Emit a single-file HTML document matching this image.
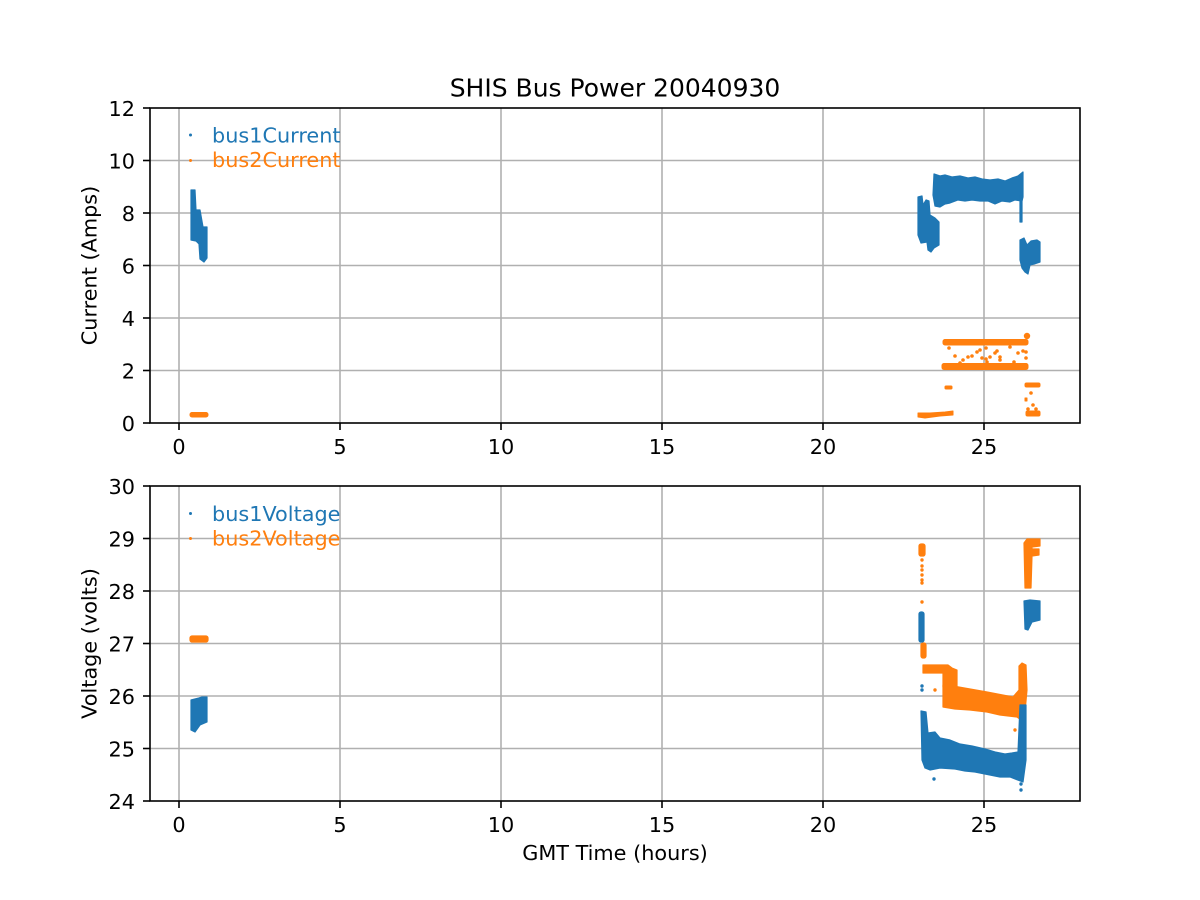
<!DOCTYPE html>
<html><head><meta charset="utf-8"><style>
html,body{margin:0;padding:0;background:#fff;}
svg{display:block;}
text{font-family:"DejaVu Sans","Liberation Sans",sans-serif;fill:#000;}
</style></head><body>
<svg width="1200" height="900" viewBox="0 0 1200 900" xmlns="http://www.w3.org/2000/svg">
<rect width="1200" height="900" fill="#fff"/>
<!-- grids -->
<g stroke="#b0b0b0" stroke-width="1.6">
<line x1="179" y1="108" x2="179" y2="423"/><line x1="340" y1="108" x2="340" y2="423"/><line x1="501" y1="108" x2="501" y2="423"/><line x1="662" y1="108" x2="662" y2="423"/><line x1="823" y1="108" x2="823" y2="423"/><line x1="984" y1="108" x2="984" y2="423"/>
<line x1="150" y1="370.5" x2="1080" y2="370.5"/><line x1="150" y1="318" x2="1080" y2="318"/><line x1="150" y1="265.5" x2="1080" y2="265.5"/><line x1="150" y1="213" x2="1080" y2="213"/><line x1="150" y1="160.5" x2="1080" y2="160.5"/>
<line x1="179" y1="486" x2="179" y2="801"/><line x1="340" y1="486" x2="340" y2="801"/><line x1="501" y1="486" x2="501" y2="801"/><line x1="662" y1="486" x2="662" y2="801"/><line x1="823" y1="486" x2="823" y2="801"/><line x1="984" y1="486" x2="984" y2="801"/>
<line x1="150" y1="748.5" x2="1080" y2="748.5"/><line x1="150" y1="696" x2="1080" y2="696"/><line x1="150" y1="643.5" x2="1080" y2="643.5"/><line x1="150" y1="591" x2="1080" y2="591"/><line x1="150" y1="538.5" x2="1080" y2="538.5"/>
</g>

<!-- TOP PANEL DATA -->
<g fill="#1f77b4" stroke="#1f77b4" stroke-width="1.2" stroke-linejoin="round">
<polygon points="191,190 195,190 196,210 200,210 203,227 207,227 207,258 204,262 200,259 199,244 196,241 191,240"/>
<polygon points="918,197 922,196 923,205 926,200 929,201 930,215 935,218 939,222 939,245 934,248 931,252 928,250 927,242 921,243 918,235"/>
<polygon points="934,174 940,176 945,175 952,177 960,176 968,178 975,177 982,179 990,180 998,179 1005,181 1012,178 1018,176 1023,172 1023,197 1022,201 1015,200 1010,202 1002,201 995,204 988,201 980,201 972,200 965,201 958,200 950,203 945,204 940,207 935,206 933,195"/>
<rect x="1020" y="196" width="2" height="26"/>
<polygon points="1020,240 1024,238 1027,245 1031,241 1037,240 1040,242 1040,262 1034,264 1030,265 1028,274 1025,272 1022,268 1020,260"/>
</g>
<g fill="#ff7f0e" stroke="#ff7f0e" stroke-width="1" stroke-linejoin="round">
<rect x="190" y="412.5" width="18" height="4.5" rx="2"/>
<rect x="943" y="339.5" width="85" height="5.5" rx="2"/>
<rect x="942" y="363.5" width="86" height="6" rx="2"/>
<polygon points="918,413 930,413 945,412 953,411 953,415 940,416 925,418 918,417"/>
<rect x="945" y="386" width="7" height="3" rx="1"/>
<rect x="1025" y="383" width="15" height="4" rx="1.5"/>
<rect x="1026" y="411" width="14" height="5" rx="1.5"/>
<rect x="1025" y="398" width="2" height="3"/>
</g>
<g fill="#ff7f0e">
<circle cx="1027" cy="336" r="3.2"/>
<circle cx="949" cy="348" r="1.8"/><circle cx="955" cy="356" r="1.8"/><circle cx="968" cy="357" r="1.8"/><circle cx="972" cy="356" r="1.8"/><circle cx="977" cy="352" r="1.8"/><circle cx="982" cy="358" r="1.8"/><circle cx="986" cy="359" r="1.8"/><circle cx="990" cy="357" r="1.8"/><circle cx="995" cy="353" r="1.8"/><circle cx="997" cy="351" r="1.8"/><circle cx="1000" cy="357" r="1.8"/><circle cx="1010" cy="347" r="1.8"/><circle cx="1018" cy="353" r="1.8"/><circle cx="1023" cy="351" r="1.8"/><circle cx="1026" cy="352" r="1.8"/><circle cx="963" cy="360" r="1.8"/><circle cx="980" cy="350" r="1.8"/><circle cx="986" cy="348" r="1.8"/><circle cx="987" cy="362" r="1.8"/><circle cx="1000" cy="360" r="1.8"/><circle cx="960" cy="363" r="1.8"/><circle cx="1014" cy="362" r="1.8"/><circle cx="1026" cy="358" r="1.8"/>
<circle cx="1031" cy="393" r="1.8"/><circle cx="1033" cy="405" r="1.8"/><circle cx="1036" cy="409" r="1.8"/><circle cx="1028" cy="409" r="1.8"/>
</g>

<!-- BOTTOM PANEL DATA -->
<g fill="#ff7f0e" stroke="#ff7f0e" stroke-width="1.2" stroke-linejoin="round">
<rect x="190" y="636" width="18" height="6" rx="2"/>
<rect x="919" y="544" width="6" height="12" rx="2"/>
<rect x="921" y="643" width="5" height="15" rx="2"/>
<polygon points="923,665 948,665 952,668 957,670 957,687 943,687 943,673 923,673"/>
<polygon points="943,685 953,686 970,689 987,692 1013,697 1019,690 1019,666 1022,663 1026,665 1027,690 1025,712 1021,720 1017,717 1000,715 987,712 970,710 955,709 943,707"/>
<polygon points="1024,543 1027,539 1040,539 1040,546 1032,547 1032,549 1039,549 1039,555 1032,556 1031,588 1025,588"/>
</g>
<g fill="#ff7f0e">
<circle cx="922" cy="560" r="1.7"/><circle cx="922" cy="566" r="1.7"/><circle cx="922" cy="570" r="1.7"/><circle cx="922" cy="575" r="1.7"/><circle cx="922" cy="580" r="1.7"/><circle cx="922" cy="583" r="1.7"/><circle cx="922" cy="602" r="1.7"/><circle cx="922" cy="636" r="1.8"/><circle cx="935" cy="690" r="1.7"/><circle cx="1015" cy="730" r="1.7"/>
</g>
<g fill="#1f77b4" stroke="#1f77b4" stroke-width="1.2" stroke-linejoin="round">
<polygon points="191,700 199,698 202,697 207,697 207,722 200,725 195,732 191,730"/>
<rect x="919" y="612" width="5" height="30" rx="2"/>
<polygon points="921,711 926,712 928,733 935,732 940,738 950,740 960,744 972,746 985,749 995,752 1005,754 1012,753 1018,752 1020,705 1026,705 1026,760 1023,782 1015,779 1010,777 1000,777 990,775 975,772 965,771 955,769 940,768 930,770 925,768 922,760"/>
<polygon points="1024,601 1030,600 1040,601 1040,620 1032,622 1028,630 1025,629"/>
</g>
<g fill="#1f77b4">
<circle cx="922" cy="686" r="1.7"/><circle cx="922" cy="690" r="1.7"/><circle cx="934" cy="779" r="1.7"/><circle cx="1021" cy="784" r="1.7"/><circle cx="1021" cy="790" r="1.7"/>
</g>

<!-- spines -->
<g fill="none" stroke="#000" stroke-width="1.6">
<rect x="150" y="108" width="930" height="315"/>
<rect x="150" y="486" width="930" height="315"/>
</g>
<!-- ticks -->
<g stroke="#000" stroke-width="1.6">
<line x1="179" y1="423" x2="179" y2="430"/><line x1="340" y1="423" x2="340" y2="430"/><line x1="501" y1="423" x2="501" y2="430"/><line x1="662" y1="423" x2="662" y2="430"/><line x1="823" y1="423" x2="823" y2="430"/><line x1="984" y1="423" x2="984" y2="430"/>
<line x1="179" y1="801" x2="179" y2="808"/><line x1="340" y1="801" x2="340" y2="808"/><line x1="501" y1="801" x2="501" y2="808"/><line x1="662" y1="801" x2="662" y2="808"/><line x1="823" y1="801" x2="823" y2="808"/><line x1="984" y1="801" x2="984" y2="808"/>
<line x1="143" y1="423" x2="150" y2="423"/><line x1="143" y1="370.5" x2="150" y2="370.5"/><line x1="143" y1="318" x2="150" y2="318"/><line x1="143" y1="265.5" x2="150" y2="265.5"/><line x1="143" y1="213" x2="150" y2="213"/><line x1="143" y1="160.5" x2="150" y2="160.5"/><line x1="143" y1="108" x2="150" y2="108"/>
<line x1="143" y1="801" x2="150" y2="801"/><line x1="143" y1="748.5" x2="150" y2="748.5"/><line x1="143" y1="696" x2="150" y2="696"/><line x1="143" y1="643.5" x2="150" y2="643.5"/><line x1="143" y1="591" x2="150" y2="591"/><line x1="143" y1="538.5" x2="150" y2="538.5"/><line x1="143" y1="486" x2="150" y2="486"/>
</g>

<!-- tick labels -->
<g font-size="20.8" text-anchor="middle">
<text x="179" y="454">0</text><text x="340" y="454">5</text><text x="501" y="454">10</text><text x="662" y="454">15</text><text x="823" y="454">20</text><text x="984" y="454">25</text>
<text x="179" y="832">0</text><text x="340" y="832">5</text><text x="501" y="832">10</text><text x="662" y="832">15</text><text x="823" y="832">20</text><text x="984" y="832">25</text>
</g>
<g font-size="20.8" text-anchor="end">
<text x="135" y="431">0</text><text x="135" y="378.5">2</text><text x="135" y="326">4</text><text x="135" y="273.5">6</text><text x="135" y="221">8</text><text x="135" y="168.5">10</text><text x="135" y="116">12</text>
<text x="135" y="809">24</text><text x="135" y="756.5">25</text><text x="135" y="704">26</text><text x="135" y="651.5">27</text><text x="135" y="599">28</text><text x="135" y="546.5">29</text><text x="135" y="494">30</text>
</g>

<!-- axis labels -->
<text x="615" y="96.5" font-size="25" text-anchor="middle">SHIS Bus Power 20040930</text>
<text x="615" y="860" font-size="20.8" text-anchor="middle">GMT Time (hours)</text>
<text transform="translate(96.5,265.5) rotate(-90)" font-size="20.8" text-anchor="middle">Current (Amps)</text>
<text transform="translate(96.5,643.5) rotate(-90)" font-size="20.8" text-anchor="middle">Voltage (volts)</text>

<!-- legends -->
<circle cx="190.5" cy="135" r="1.5" fill="#1f77b4"/>
<circle cx="190.5" cy="160.5" r="1.5" fill="#ff7f0e"/>
<text x="212" y="142.5" font-size="20.8" style="fill:#1f77b4">bus1Current</text>
<text x="212" y="167" font-size="20.8" style="fill:#ff7f0e">bus2Current</text>
<circle cx="190.5" cy="513.5" r="1.5" fill="#1f77b4"/>
<circle cx="190.5" cy="538.5" r="1.5" fill="#ff7f0e"/>
<text x="212" y="521" font-size="20.8" style="fill:#1f77b4">bus1Voltage</text>
<text x="212" y="545.5" font-size="20.8" style="fill:#ff7f0e">bus2Voltage</text>
</svg>
</body></html>
